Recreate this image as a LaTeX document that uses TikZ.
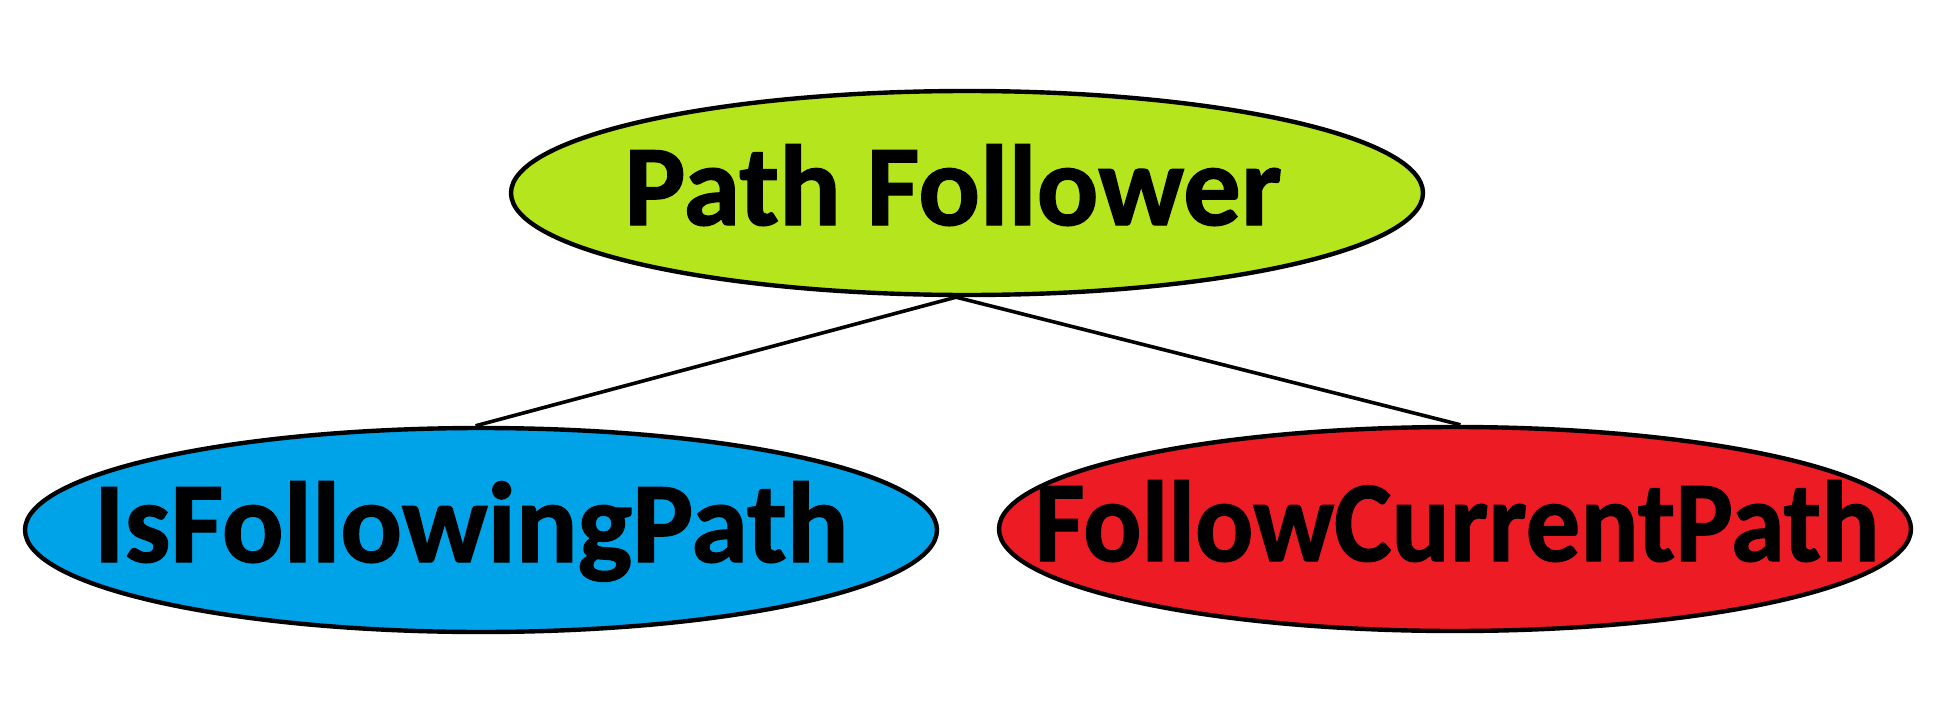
\documentclass[tikz,border=0pt]{standalone}
\usepackage{fontspec}
\usepackage{graphicx}
\setmainfont{Carlito}[BoldFeatures={FakeBold=1.2}]
\usetikzlibrary{shapes.geometric}
\definecolor{paintlime}{RGB}{181,230,29}
\definecolor{paintblue}{RGB}{0,162,232}
\definecolor{paintred}{RGB}{237,28,36}
\begin{document}
\begin{tikzpicture}[x=0.5pt,y=-0.5pt,
  bub/.style={ellipse, draw=black, line width=2.2pt, minimum width=456pt, minimum height=102pt,
    inner sep=0pt},
  lbl/.style={inner sep=0pt, font=\fontsize{57.5}{62}\selectfont\bfseries, text height=32pt, text depth=0pt},
  link/.style={draw=black, line width=1.8pt}]
\fill[white] (0,0) rectangle (1940,712);
\useasboundingbox (0,0) rectangle (1940,712);
\node[bub, fill=paintlime] (top) at (967,193) {};
\node[bub, fill=paintblue] (left) at (481,530) {};
\node[bub, fill=paintred] (right) at (1455,529) {};
\node[lbl] (toptext) at (953,193) {Path Follower};
\node[lbl] (lefttext) at (471,530) {IsFollowingPath};
\node[lbl] (righttext) at (1457,529) {\scalebox{0.944}[1]{FollowCurrentPath}};
\draw[link] (top.-96.5) -- (left.93);
\draw[link] (top.-96.5) -- (right.87);
\end{tikzpicture}
\end{document}
